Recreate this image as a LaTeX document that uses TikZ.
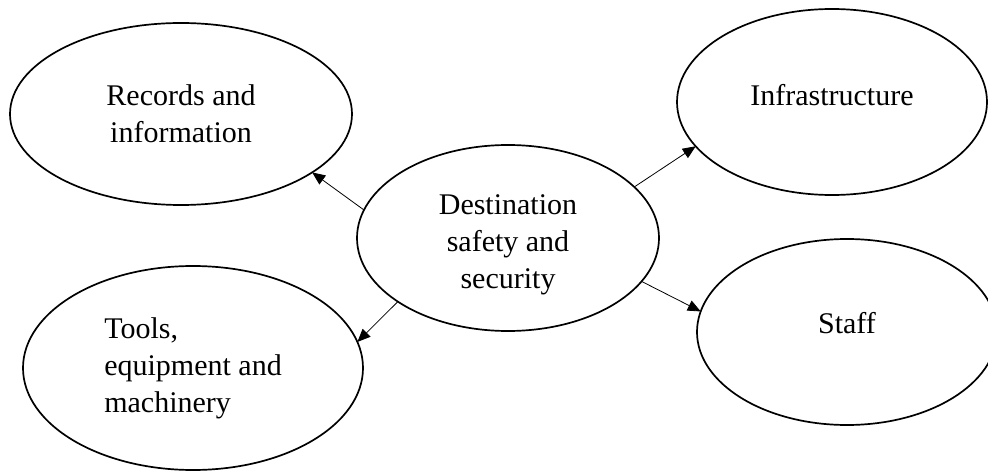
\documentclass[tikz,border=0pt]{standalone}
\usepackage{fontspec}
\setmainfont{Liberation Serif}
\usetikzlibrary{shapes.geometric,arrows.meta}

\begin{document}
\begin{tikzpicture}[x=1pt,y=-1pt,font=\fontsize{30}{37}\selectfont]

      \tikzstyle{bubble}=[ellipse,draw,line width=1.7pt,
        inner sep=0pt,outer sep=0pt,text centered]
      \tikzstyle{link}=[line width=0.8pt,
        -{Triangle[length=13pt,width=11pt]}]

      \useasboundingbox (0,0) rectangle (988,473);

      \node(Centre)[bubble,minimum width=302pt,minimum height=186pt,
        label={[yshift=-7pt,align=center]center:{Destination\\safety and\\security}}]
        at (508,238){};

      \node(Records)[bubble,minimum width=342pt,minimum height=182pt,
        align=center] at (181,114){Records and\\information};
      \node(Infra)[bubble,minimum width=310pt,minimum height=186pt,
        label={[yshift=7pt]center:Infrastructure}] at (832,102){};
      \node(Tools)[bubble,minimum width=340pt,minimum height=204pt,
        align=left] at (193,368){Tools,\\equipment and\\machinery};
      \node(Staff)[bubble,minimum width=300pt,minimum height=186pt,
        label={[yshift=9pt]center:Staff}] at (847,332){};

      \draw [link] (Centre.169)--(Records.336);
      \draw [link] (Centre.22)--(Infra.198);
      \draw [link] (Centre.210)--(Tools.9);
      \draw [link] (Centre.342)--(Staff.172);

    \end{tikzpicture}
\end{document}
